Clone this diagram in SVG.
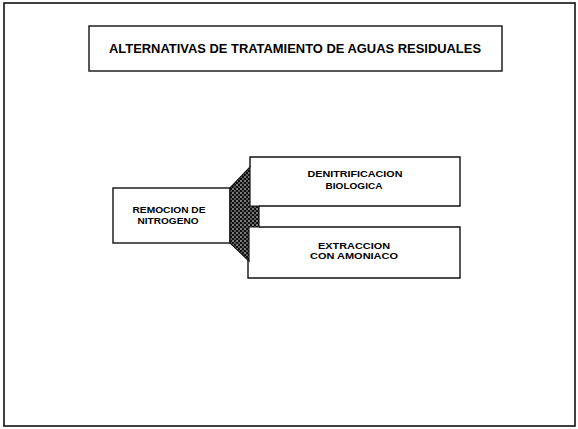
<svg xmlns="http://www.w3.org/2000/svg" width="578" height="429" viewBox="0 0 578 429">
  <defs>
    <pattern id="stipple" width="4" height="4" patternUnits="userSpaceOnUse">
      <rect width="4" height="4" fill="#111"/>
      <circle cx="1" cy="1" r="0.8" fill="#fff"/>
      <circle cx="3" cy="3" r="0.7" fill="#ddd"/>
    </pattern>
  </defs>
  <style>
    .frame { fill: #fff; stroke: #111; stroke-width: 1.6; }
    .box { fill: #fff; stroke: #111; stroke-width: 1.4; }
    .line { fill: none; stroke: #111; stroke-width: 1.4; }
    .title { font-family: "Liberation Sans", Arial, sans-serif; font-weight: bold; font-size: 12.5px; fill: #000; }
    .label { font-family: "Liberation Sans", Arial, sans-serif; font-weight: bold; font-size: 8.5px; fill: #000; text-anchor: middle; }
  </style>
  <rect x="0" y="0" width="578" height="429" fill="#fff"/>
  <rect class="frame" x="4" y="3" width="571" height="423"/>

  <g id="title">
    <rect class="box" x="89" y="26" width="413" height="45"/>
    <text class="title" x="109" y="53" textLength="372" lengthAdjust="spacingAndGlyphs">ALTERNATIVAS DE TRATAMIENTO DE AGUAS RESIDUALES</text>
  </g>

  <g id="remocion">
    <rect class="box" x="113" y="188" width="117" height="55"/>
    <text class="label" x="169" y="213" textLength="73" lengthAdjust="spacingAndGlyphs">REMOCION DE</text>
    <text class="label" x="168" y="224" textLength="61" lengthAdjust="spacingAndGlyphs">NITROGENO</text>
  </g>

  <g id="denitrificacion">
    <path class="line" d="M250,167 L250,157 L460,157 L460,206 L259,206"/>
    <text class="label" x="355" y="177" textLength="95" lengthAdjust="spacingAndGlyphs">DENITRIFICACION</text>
    <text class="label" x="354" y="189" textLength="57" lengthAdjust="spacingAndGlyphs">BIOLOGICA</text>
  </g>

  <g id="extraccion">
    <path class="line" d="M259,227 L460,227 L460,278 L248,278 L248,260"/>
    <text class="label" x="354" y="249" textLength="72" lengthAdjust="spacingAndGlyphs">EXTRACCION</text>
    <text class="label" x="354" y="259" textLength="88" lengthAdjust="spacingAndGlyphs">CON AMONIACO</text>
  </g>

  <g id="connectors">
    <path d="M230,188 L250,167 L250,206 L259,206 L259,227 L249,227 L249,261 L230,243 Z" fill="url(#stipple)" stroke="#111" stroke-width="1.2"/>
  </g>
</svg>
